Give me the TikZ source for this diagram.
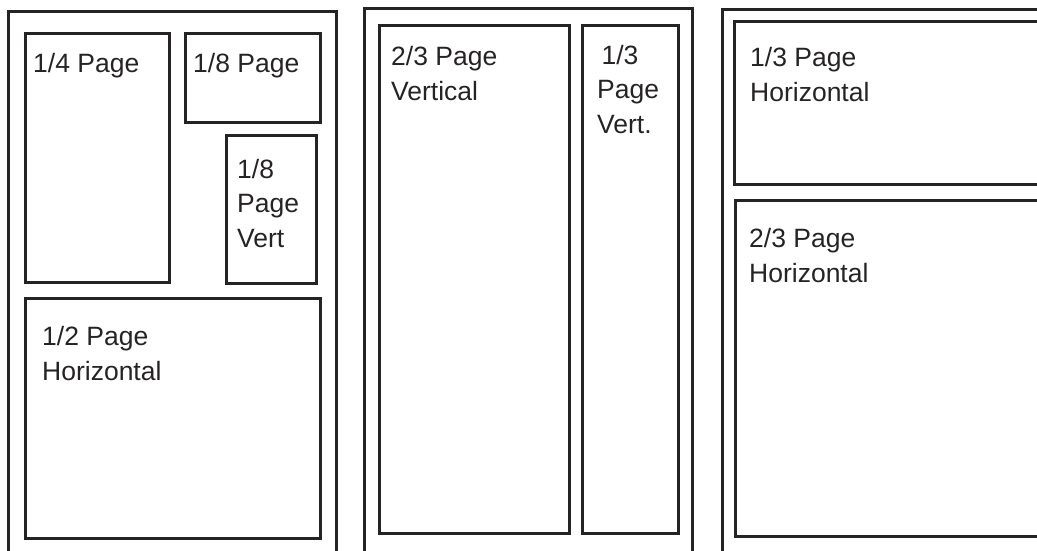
\documentclass[tikz,border=0pt]{standalone}
\usepackage{fontspec}
\setmainfont{Liberation Sans}
\definecolor{ink}{HTML}{262324}
\begin{document}
\begin{tikzpicture}[x=1pt,y=-1pt,
  frame/.style={draw=ink,line width=3pt},
  label/.style={anchor=base west,inner sep=0pt,align=left,text=ink,
    font=\fontsize{26.5}{34.5}\selectfont}]
\useasboundingbox (0,0) rectangle (1037,550);
\clip (0,0) rectangle (1037,550);
% outer panels (open at bottom / right)
\draw[frame] (8,570) -- (8,11) -- (336,11) -- (336,570);
\draw[frame] (364,570) -- (364,8) -- (692,8) -- (692,570);
\draw[frame] (722,570) -- (722,9) -- (1050,9);
% panel 1 boxes
\draw[frame] (25,33) rectangle (169,282);
\draw[frame] (185,33) rectangle (320,122);
\draw[frame] (226,135) rectangle (316,283);
\draw[frame] (25,298) rectangle (320,538);
% panel 2 boxes
\draw[frame] (379,25) rectangle (569,533);
\draw[frame] (582,25) rectangle (678,533);
% panel 3 boxes
\draw[frame] (1050,21) -- (734,21) -- (734,184) -- (1050,184);
\draw[frame] (1050,200) -- (735,200) -- (735,536) -- (1050,536);
% labels (anchored at the baseline of their last line)
\node[label] (q) at (33,72) {1/4 Page};
\node[label] (e) at (193,72) {1/8 Page};
\node[label] (ev) at (237,247) {1/8\\Page\\Vert};
\node[label] (h) at (42,380) {1/2 Page\\Horizontal};
\node[label] (tv) at (391,100) {2/3 Page\\Vertical};
\node[label] (ov) at (597,133) {\,1/3\\Page\\Vert.};
\node[label] (oh) at (750,101) {1/3 Page\\Horizontal};
\node[label] (th) at (749,282) {2/3 Page\\Horizontal};
\end{tikzpicture}
\end{document}
